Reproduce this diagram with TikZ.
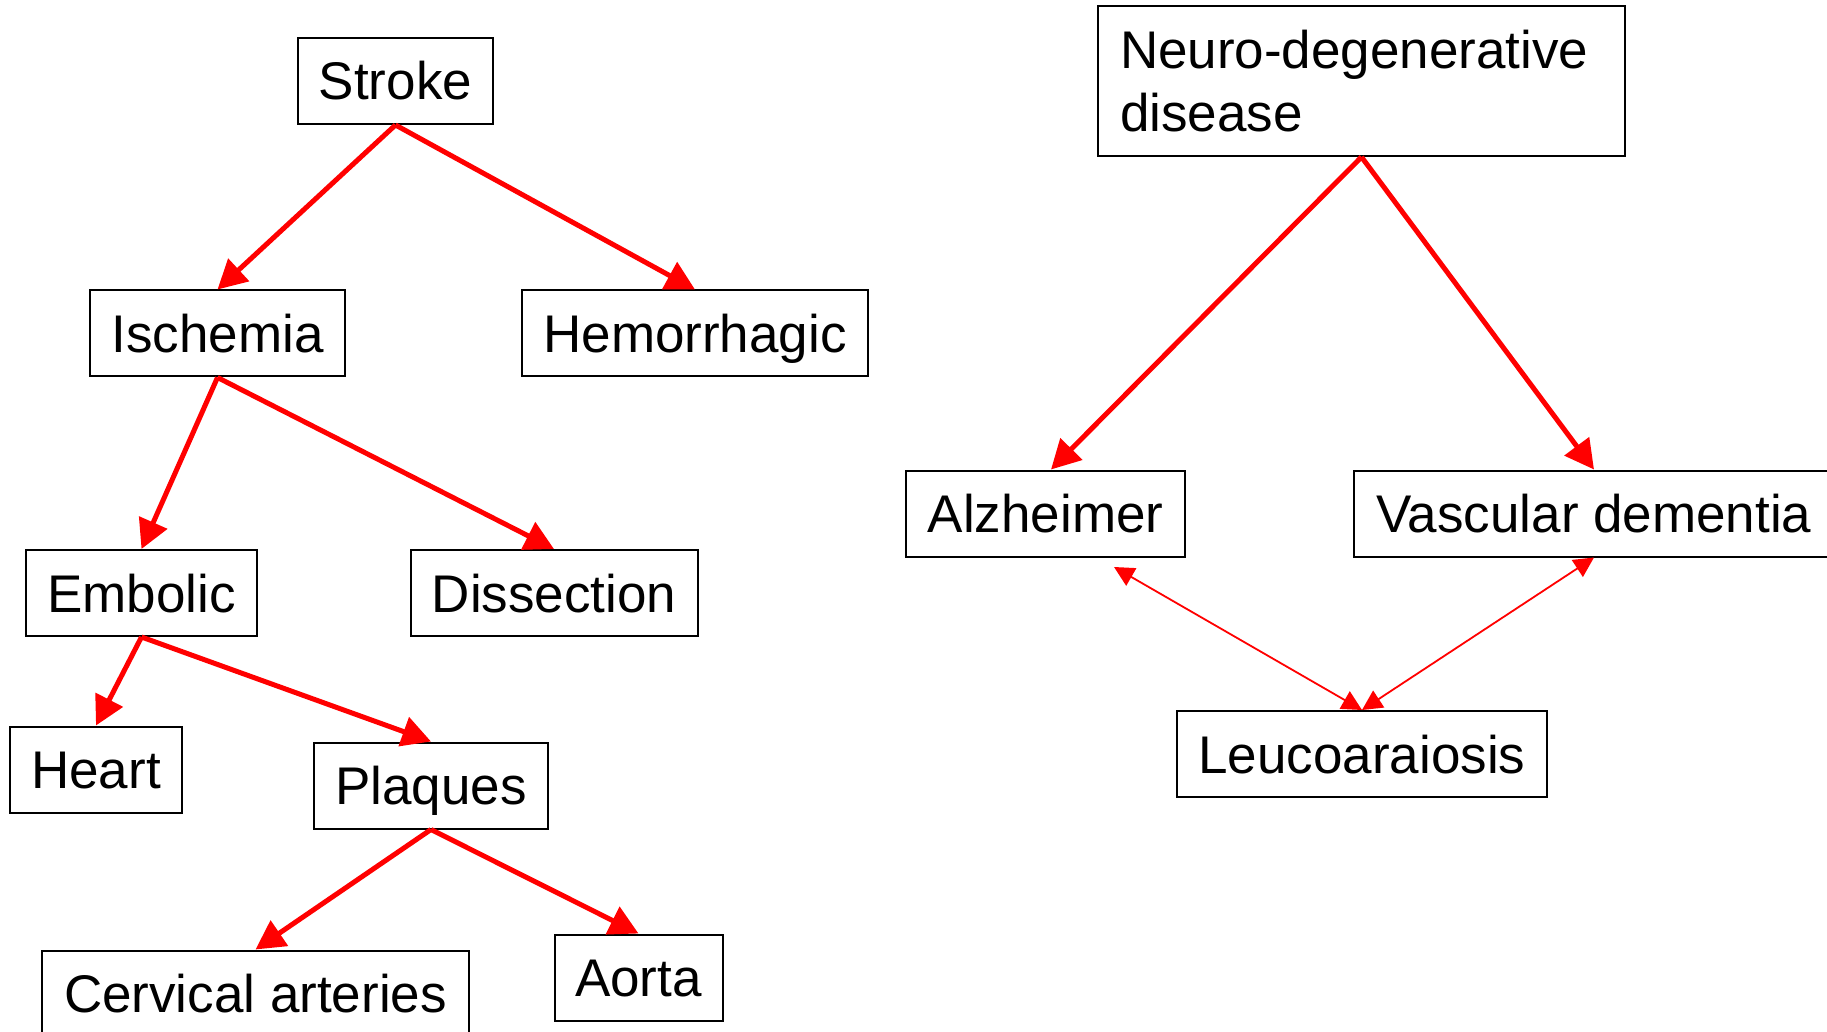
\documentclass[tikz,border=0pt]{standalone}
\usepackage{fontspec}
\setmainfont{Liberation Sans}
\usetikzlibrary{arrows.meta,calc}
\tikzset{
  nbox/.style={draw=black, line width=1pt, inner sep=0pt, minimum height=43pt,
    font=\fontsize{26.5pt}{31.5pt}\selectfont},
  sbox/.style={nbox, text height=19pt, text depth=0pt},
  thickarrow/.style={draw=red, line width=2.5pt, line join=miter,
    -{Triangle[length=14.5pt,width=15pt]}},
  thinarrow/.style={draw=red, line width=0.9pt,
    {Triangle[length=10pt,width=10pt]}-{Triangle[length=10pt,width=10pt]}}
}
\begin{document}
\begin{tikzpicture}[x=0.5pt,y=-0.5pt]
\useasboundingbox (0,0) rectangle (1827,1032);
\clip (0,0) rectangle (1827,1032);
\fill[white] (0,0) rectangle (1827,1032);
% left tree
\node[sbox, minimum width=97.5pt]  (stroke) at (395.5,81)   {Stroke};
\node[sbox, minimum width=127.5pt] (isch)   at (217.5,333.5) {Ischemia};
\node[sbox, minimum width=173pt]   (hem)    at (695,333.5)   {Hemorrhagic};
\node[sbox, minimum width=115.5pt] (emb)    at (141.5,593)   {Embolic};
\node[sbox, minimum width=143.5pt] (diss)   at (554,593)     {Dissection};
\node[sbox, minimum width=86pt]    (heart)  at (96,769.5)    {Heart};
\node[sbox, minimum width=117pt]   (plaq)   at (431,785.5)   {Plaques};
\node[sbox, minimum width=213.5pt] (cerv)   at (255.5,993.5) {Cervical arteries};
\node[sbox, minimum width=84pt]    (aorta)  at (638.5,977.5) {Aorta};
% right tree
\node[nbox, minimum width=263.5pt, minimum height=75pt, align=left,
      text width=241.5pt, inner xsep=11pt] (neuro) at (1361.5,81)
      {Neuro-degenerative\\disease};
\node[sbox, minimum width=139.5pt] (alz)    at (1045.5,513.5) {Alzheimer};
\node[sbox, minimum width=240pt]   (vasc)   at (1594,513.5)   {Vascular dementia};
\node[sbox, minimum width=185pt]   (leuco)  at (1362,754)     {Leucoaraiosis};
\coordinate (alzend) at (1114,567);
% connectors
\draw[thickarrow] (stroke.south) -- (isch.north);
\draw[thickarrow] (stroke.south) -- (hem.north);
\draw[thickarrow] (isch.south) -- (emb.north);
\draw[thickarrow] (isch.south) -- (diss.north);
\draw[thickarrow] (emb.south) -- (heart.north);
\draw[thickarrow] (emb.south) -- (plaq.north);
\draw[thickarrow] (plaq.south) -- (cerv.north);
\draw[thickarrow] (plaq.south) -- (aorta.north);
\draw[thickarrow] (neuro.south) -- ([xshift=2.75pt]alz.north);
\draw[thickarrow] (neuro.south) -- (vasc.north);
\draw[thinarrow] (alzend) -- (leuco.north);
\draw[thinarrow] (vasc.south) -- (leuco.north);
\end{tikzpicture}
\end{document}
